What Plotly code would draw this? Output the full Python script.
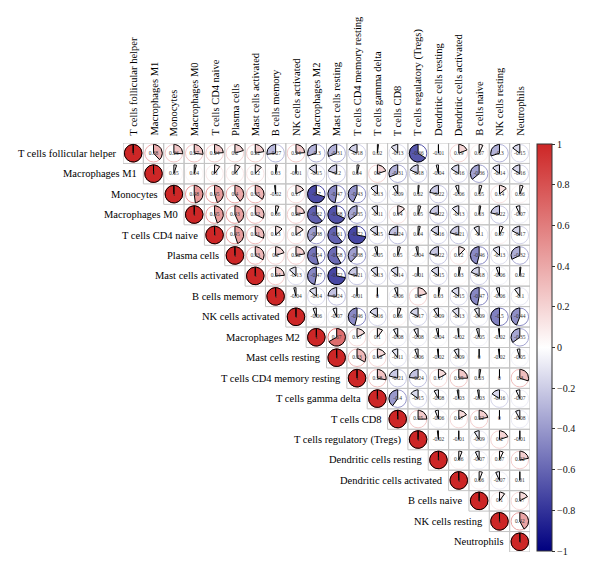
import numpy as np
import plotly.graph_objects as go

labels = ["T cells follicular helper", "Macrophages M1", "Monocytes", "Macrophages M0",
          "T cells CD4 naive", "Plasma cells", "Mast cells activated", "B cells memory",
          "NK cells activated", "Macrophages M2", "Mast cells resting",
          "T cells CD4 memory resting", "T cells gamma delta", "T cells CD8",
          "T cells regulatory (Tregs)", "Dendritic cells resting", "Dendritic cells activated",
          "B cells naive", "NK cells resting", "Neutrophils"]

# upper triangle, row i holds correlations with columns i+1 .. 19
row_00 = [0.38, 0.26, 0.27, 0.24, 0.2, 0.22, -0.27, 0.24, -0.3, -0.31, -0.18, 0.02, -0.13, -0.66, -0.01, 0.19, 0.07, -0.3, -0.15]
row_01 = [0.05, 0.04, 0.1, 0.1, 0.12, 0.03, -0.01, -0.15, -0.2, 0.04, 0.2, -0.31, -0.18, -0.04, -0.16, -0.36, -0.14, -0.16]
row_02 = [0.48, 0.45, 0.4, 0.35, -0.02, 0.17, -0.7, -0.47, -0.43, -0.13, -0.09, 0.02, -0.22, -0.06, 0.05, 0.14, 0.06]
row_03 = [0.45, 0.43, 0.32, 0.06, 0.22, -0.62, -0.68, -0.35, -0.11, 0.14, 0.05, -0.22, -0.13, 0.03, -0.22, -0.07]
row_04 = [0.45, 0.31, 0.13, 0.15, -0.38, -0.61, -0.72, -0.15, -0.24, 0.04, -0.16, -0.21, -0.1, 0.07, -0.17]
row_05 = [0.33, 0.2, 0.22, -0.54, -0.58, -0.38, -0.05, 0.05, -0.04, -0.22, 0.12, -0.46, -0.13, -0.32]
row_06 = [0.24, -0.13, -0.47, -0.72, -0.21, -0.13, -0.14, -0.01, -0.15, 0.03, -0.18, -0.06, 0.02]
row_07 = [-0.04, -0.14, -0.24, -0.01, 0, -0.06, 0.2, 0.03, -0.15, -0.47, -0.06, -0.1]
row_08 = [-0.06, -0.07, -0.46, -0.16, 0.06, -0.17, -0.09, -0.13, -0.09, -0.5, -0.44]
row_09 = [0.67, 0.17, 0.1, -0.08, -0.08, -0.04, -0.02, -0.05, -0.02, -0.35]
row_10 = [0.33, 0.18, -0.11, -0.06, -0.02, -0.09, 0, -0.02, -0.05]
row_11 = [0.28, -0.21, -0.24, 0.17, 0.25, 0.03, 0, 0.3]
row_12 = [-0.4, -0.15, -0.08, -0.03, -0.03, -0.16, -0.07]
row_13 = [0.25, -0.06, 0.17, 0.22, 0, -0.08]
row_14 = [-0.02, -0.01, -0.09, 0.2, -0.01]
row_15 = [0.06, -0.07, 0.07, 0.22]
row_16 = [0.06, -0.07, 0.01]
row_17 = [0.1, 0.17]
row_18 = [0.42]

upper = [row_00, row_01, row_02, row_03, row_04, row_05, row_06, row_07, row_08, row_09,
         row_10, row_11, row_12, row_13, row_14, row_15, row_16, row_17, row_18, []]

colorbar_ticks = [-1, -0.8, -0.6, -0.4, -0.2, 0, 0.2, 0.4, 0.6, 0.8, 1]

n = len(labels)
M = np.eye(n)
for i, vals in enumerate(upper):
    for k, v in enumerate(vals):
        M[i, i + 1 + k] = v

NEG = np.array([0, 0, 128])
POS = np.array([205, 38, 38])
WHITE = np.array([255, 255, 255])


def col(v):
    t = min(abs(v), 1.0)
    c = WHITE + (NEG - WHITE) * t if v < 0 else WHITE + (POS - WHITE) * t
    return "rgb(%d,%d,%d)" % tuple(np.round(c).astype(int))


SERIF = "Liberation Serif, DejaVu Serif, serif"
R = 0.43
fig = go.Figure()
shapes = []
tx, ty, tt = [], [], []

for i in range(n):
    for j in range(i, n):
        v = M[i, j]
        shapes.append(dict(type="rect", xref="x", yref="y", x0=j - 0.5, x1=j + 0.5,
                           y0=i - 0.5, y1=i + 0.5, line=dict(color="#c4c4c4", width=1),
                           layer="below"))
        shapes.append(dict(type="circle", xref="x", yref="y", x0=j - R, x1=j + R,
                           y0=i - R, y1=i + R, line=dict(color=col(v), width=1),
                           layer="below"))
        ang = v * 2 * np.pi
        m = max(2, int(abs(v) * 80) + 2)
        th = np.linspace(0, ang, m)
        xs = [j] + list(j + R * np.sin(th)) + [j]
        ys = [i] + list(i - R * np.cos(th)) + [i]
        fig.add_trace(go.Scatter(x=xs, y=ys, mode="lines", fill="toself",
                                 fillcolor=col(v), line=dict(color="black", width=1),
                                 hoverinfo="skip", showlegend=False))
        tx.append(j)
        ty.append(i)
        tt.append("%g" % round(v, 2))

fig.add_trace(go.Scatter(x=tx, y=ty, text=tt, mode="text",
                         textfont=dict(family=SERIF, size=5.5, color="#333"),
                         hoverinfo="skip", showlegend=False))

# colorbar carrier
fig.add_trace(go.Scatter(x=[-50], y=[-50], mode="markers", hoverinfo="skip", showlegend=False,
                         marker=dict(color=[0], cmin=-1, cmax=1,
                                     colorscale=[[0, "rgb(0,0,128)"], [0.5, "white"],
                                                 [1, "rgb(205,38,38)"]],
                                     showscale=True,
                                     colorbar=dict(thickness=15, thicknessmode="pixels",
                                                   len=407, lenmode="pixels",
                                                   x=(537 - 123) / 407, xanchor="left", xpad=0,
                                                   y=0.5, yanchor="middle", ypad=0,
                                                   outlinecolor="#333", outlinewidth=1,
                                                   ticks="outside", ticklen=3, tickcolor="#333",
                                                   tickvals=colorbar_ticks,
                                                   tickfont=dict(family=SERIF, size=10,
                                                                 color="#111")))))

ann = []
for i, lab in enumerate(labels):
    # row label: right edge just left of the diagonal cell
    ann.append(dict(x=i / n, y=i, xref="paper", yref="y", text=lab, showarrow=False,
                    xanchor="right", yanchor="middle", xshift=-4,
                    font=dict(family=SERIF, size=10.5, color="#000")))
    # column label: above the grid
    ann.append(dict(x=i, y=1, xref="x", yref="paper", text=lab, showarrow=False,
                    textangle=-90, xanchor="center", yanchor="bottom", yshift=5,
                    font=dict(family=SERIF, size=10.5, color="#000")))

fig.update_layout(width=600, height=574, margin=dict(l=123, r=70, t=143, b=22),
                  paper_bgcolor="white", plot_bgcolor="white",
                  shapes=shapes, annotations=ann, showlegend=False)
fig.update_xaxes(range=[-0.5, n - 0.5], showgrid=False, zeroline=False,
                 showticklabels=False, ticks="", fixedrange=True)
fig.update_yaxes(range=[n - 0.5, -0.5], showgrid=False, zeroline=False,
                 showticklabels=False, ticks="", fixedrange=True)

fig.write_html("out.html")
